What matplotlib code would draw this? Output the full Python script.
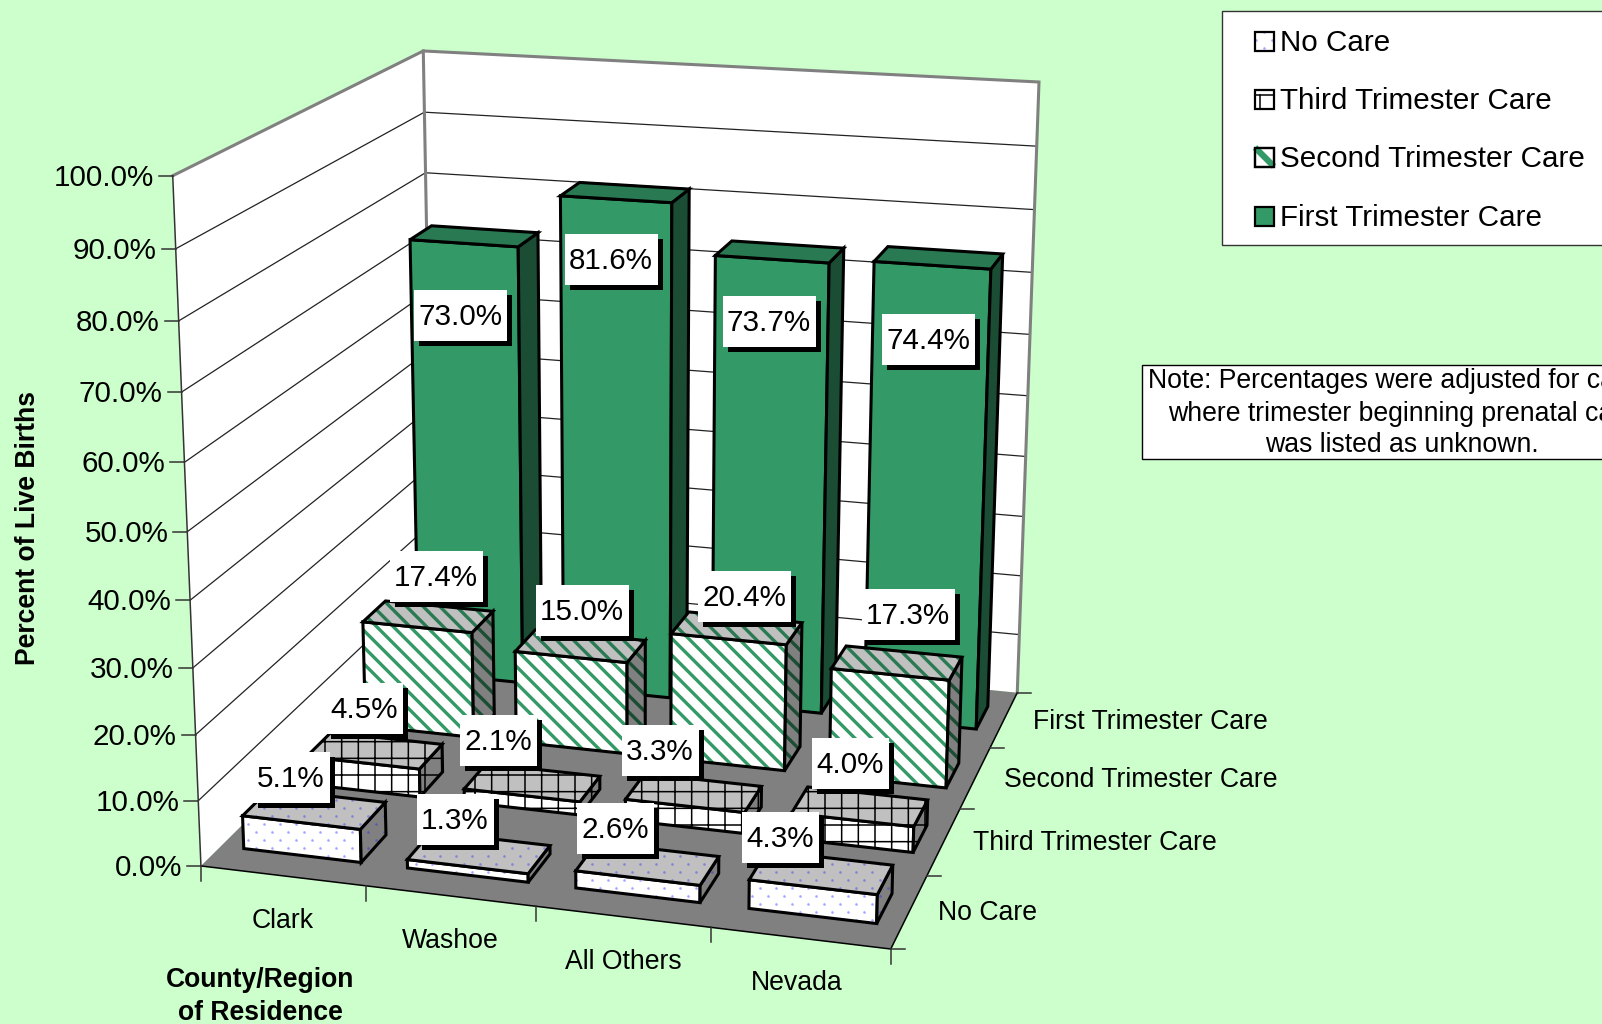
"""3-D style stacked-depth bar chart of prenatal care by county, drawn on a plain axes."""
import numpy as np
import matplotlib
matplotlib.use('Agg')
import matplotlib.pyplot as plt
from matplotlib.patches import Polygon, Rectangle

plt.rcParams['font.family'] = ['Liberation Sans', 'DejaVu Sans']

counties = ['Clark', 'Washoe', 'All Others', 'Nevada']
series = ['No Care', 'Third Trimester Care', 'Second Trimester Care', 'First Trimester Care']
no_care = [5.1, 1.3, 2.6, 4.3]
third = [4.5, 2.1, 3.3, 4.0]
second = [17.4, 15.0, 20.4, 17.3]
first = [73.0, 81.6, 73.7, 74.4]
values = [no_care, third, second, first]
z_ticks = [0, 10, 20, 30, 40, 50, 60, 70, 80, 90, 100]

# label box centres in pixels, one row per series
label_xy = [
    [(291, 777), (455, 819), (615, 828), (780, 837)],
    [(364, 708), (498, 740), (660, 750), (850, 763)],
    [(436, 576), (582, 610), (744, 596), (908, 614)],
    [(460, 315), (611, 259), (769, 321), (928, 339)],
]
county_dx = [0, 0, 0, -3]

BG = '#CCFFCC'
GREEN = '#339966'
TXT = 2  # Liberation sits a little high with va='center'
# front / top / side fill and hatch colour for each series
styles = [
    dict(hatch='dots', hlw=0, front=('white', '#A8A8FF'), top=('#C0C0C0', '#8585D6'), side=('#808080', '#5C5CAD')),
    dict(hatch='+', hlw=1.1, front=('white', 'black'), top=('#C0C0C0', 'black'), side=('#808080', 'black')),
    dict(hatch='\\\\', hlw=2.4, front=('white', GREEN), top=('#C0C0C0', '#297A52'), side=('#808080', '#1A4D33')),
    dict(hatch=None, hlw=0, front=(GREEN, GREEN), top=('#297A52', '#297A52'), side=('#1A4D33', '#1A4D33')),
]

# cube corners (x, y, z in 0-1) and where they sit in the picture
cube = [(0, 0, 0), (0, 0, 1), (0, 1, 1), (1, 1, 1), (1, 1, 0), (1, 0, 0), (0, 1, 0)]
screen = [(201, 866), (172.7, 175.7), (423.3, 51), (1039, 82), (1017.3, 692.7), (890.7, 949), (434, 635)]

A = []
for (a, b, c), (u, v) in zip(cube, screen):
    A.append([a, b, c, 1, 0, 0, 0, 0, -u * a, -u * b, -u * c, -u])
    A.append([0, 0, 0, 0, a, b, c, 1, -v * a, -v * b, -v * c, -v])
P = np.linalg.svd(np.array(A))[2][-1].reshape(3, 4)


def proj(x, y, z):
    """x in categories (0-4), y in rows (0-4), z in percent -> pixels."""
    h = P @ np.array([x / 4, y / 4, z / 100, 1.0])
    return h[0] / h[2], h[1] / h[2]


fig = plt.figure(figsize=(16.02, 10.24), dpi=100, facecolor=BG)
ax = fig.add_axes([0, 0, 1, 1])
ax.set_xlim(0, 1602)
ax.set_ylim(1024, 0)
ax.axis('off')

zo = 1


def dots(pts, color, clip):
    # staggered dot pattern, the '.' hatch has the wrong row spacing
    arr = np.array(pts)
    xs, ys = [], []
    rows = np.arange(np.floor(arr[:, 1].min() / 8), np.ceil(arr[:, 1].max() / 8) + 1)
    for k in rows:
        col = np.arange(arr[:, 0].min() - 16, arr[:, 0].max() + 16, 16)
        col = np.floor(col / 16) * 16 + (8 if int(k) % 2 else 0)
        xs.extend(col)
        ys.extend([k * 8] * len(col))
    ln, = ax.plot(xs, ys, ls='', marker='o', ms=1.9, mew=0, color=color, zorder=zo)
    ln.set_clip_path(clip)


def face(pts, fill, hatch=None, hcolor=None, hlw=1.0, edge='black', lw=2.2):
    global zo
    zo += 1
    if hatch == 'dots':
        p = ax.add_patch(Polygon(pts, closed=True, facecolor=fill, edgecolor='none', zorder=zo))
        dots(pts, hcolor, p)
        ax.add_patch(Polygon(pts, closed=True, fill=False, edgecolor=edge, lw=lw, zorder=zo, joinstyle='miter'))
    elif hatch:
        # hatch width comes from rcParams when the patch is made
        plt.rcParams['hatch.linewidth'] = hlw
        ax.add_patch(Polygon(pts, closed=True, facecolor=fill, edgecolor=hcolor, hatch=hatch, lw=0, zorder=zo))
        ax.add_patch(Polygon(pts, closed=True, fill=False, edgecolor=edge, lw=lw, zorder=zo, joinstyle='miter'))
    else:
        ax.add_patch(Polygon(pts, closed=True, facecolor=fill, edgecolor=edge, lw=lw, zorder=zo, joinstyle='miter'))


# walls and floor
face([proj(0, 0, 0), proj(0, 4, 0), proj(0, 4, 100), proj(0, 0, 100)], 'white', edge='none', lw=0)
face([proj(0, 4, 0), proj(4, 4, 0), proj(4, 4, 100), proj(0, 4, 100)], 'white', edge='none', lw=0)
face([proj(0, 0, 0), proj(4, 0, 0), proj(4, 4, 0), proj(0, 4, 0)], '#808080', edge='none', lw=0)
for z in z_ticks[1:-1]:
    pts = [proj(0, 0, z), proj(0, 4, z), proj(4, 4, z)]
    ax.plot(*zip(*pts), color='#222222', lw=0.9, zorder=zo)
top_edge = [proj(0, 0, 100), proj(0, 4, 100), proj(4, 4, 100), proj(4, 4, 0)]
ax.plot(*zip(*top_edge), color='#808080', lw=2.2, zorder=zo, solid_joinstyle='miter')
ax.plot(*zip(proj(0, 4, 0), proj(0, 4, 100)), color='#808080', lw=2.2, zorder=zo)

# axis lines, ticks and tick labels
ax.plot(*zip(proj(0, 0, 0), proj(0, 0, 100)), color='#333333', lw=1.1, zorder=zo)
ax.plot(*zip(proj(0, 0, 0), proj(4, 0, 0), proj(4, 4, 0)), color='black', lw=1.1, zorder=zo)
for z in z_ticks:
    x0, y0 = proj(0, 0, z)
    ax.plot([x0 - 14, x0], [y0, y0], color='#333333', lw=1.1, zorder=zo)
    ax.text(x0 - 19, y0 + TXT, f'{z:.1f}%', ha='right', va='center', fontsize=21.3, color='black')
for i in range(5):
    x0, y0 = proj(i, 0, 0)
    ax.plot([x0, x0], [y0, y0 + 15], color='#333333', lw=1.1, zorder=zo)
for i, name in enumerate(counties):
    x0, y0 = proj(i + 0.5, 0, 0)
    ax.text(x0 + county_dx[i], y0 + 43 + TXT, name, ha='center', va='center', fontsize=19.2, color='black')
for r in range(5):
    x0, y0 = proj(4, r, 0)
    ax.plot([x0, x0 + 14], [y0, y0], color='#333333', lw=1.1, zorder=zo)
for r, name in enumerate(series):
    x0, y0 = proj(4, r + 0.5, 0)
    ax.text(x0 + 29, y0 + TXT, name, ha='left', va='center', fontsize=19.2, color='black')

# bars, back row first
GAP_X = 0.14
GAP_Y = 0.295
for r in [3, 2, 1, 0]:
    st = styles[r]
    for i in range(4):
        v = values[r][i]
        x0, x1 = i + GAP_X, i + 1 - GAP_X
        y0, y1 = r + GAP_Y, r + 1 - GAP_Y
        face([proj(x0, y0, 0), proj(x1, y0, 0), proj(x1, y0, v), proj(x0, y0, v)],
             st['front'][0], st['hatch'], st['front'][1], st['hlw'])
        face([proj(x1, y0, 0), proj(x1, y1, 0), proj(x1, y1, v), proj(x1, y0, v)],
             st['side'][0], st['hatch'], st['side'][1], st['hlw'])
        face([proj(x0, y0, v), proj(x1, y0, v), proj(x1, y1, v), proj(x0, y1, v)],
             st['top'][0], st['hatch'], st['top'][1], st['hlw'])

# data labels with a hard black shadow
for r in range(4):
    for i in range(4):
        v = values[r][i]
        cx, cy = label_xy[r][i]
        w = 93 if v >= 10 else 77
        ax.add_patch(Rectangle((cx - w / 2 + 5, cy - 25.5 + 5), w, 51, fc='black', ec='none', zorder=100))
        ax.add_patch(Rectangle((cx - w / 2, cy - 25.5), w, 51, fc='white', ec='none', zorder=101))
        ax.text(cx, cy + TXT, f'{v:.1f}%', ha='center', va='center', fontsize=21.3, color='black', zorder=102)

# axis titles
ax.text(28.5, 528, 'Percent of Live Births', rotation=90, ha='center', va='center',
        fontsize=19.1, fontweight='bold')
ax.text(260, 978 + TXT, 'County/Region', ha='center', va='center', fontsize=19.1, fontweight='bold')
ax.text(260, 1011 + TXT, 'of Residence', ha='center', va='center', fontsize=19.1, fontweight='bold')

# legend box runs off the right edge
ax.add_patch(Rectangle((1221.5, 10.5), 420, 234.5, fc='white', ec='#333333', lw=1.0, zorder=110))
legend_y = [41, 99, 157, 216]
for r, yy in enumerate(legend_y):
    st = styles[r]
    zo = 111
    sx0, sx1, sy0, sy1 = 1255, 1274, yy - 9.5, yy + 9.5
    swatch = [(sx0, sy0), (sx1, sy0), (sx1, sy1), (sx0, sy1)]
    # hatches are too coarse for a swatch this small, draw its pattern by hand
    if st['hatch'] == '+':
        face(swatch, 'white', lw=1.6)
        ax.plot([sx0, sx1], [yy - 4, yy - 4], color='black', lw=1.1, zorder=zo)
        ax.plot([sx0 + 5, sx0 + 5], [yy - 4, sy1], color='black', lw=1.1, zorder=zo)
    elif st['hatch'] == '\\\\':
        face(swatch, 'white', lw=1.6)
        ax.plot([sx0, sx1], [sy0, sy1], color=GREEN, lw=4.5, zorder=zo, solid_capstyle='butt')
        ax.add_patch(Polygon(swatch, closed=True, fill=False, edgecolor='black', lw=1.6, zorder=zo))
    else:
        face(swatch, st['front'][0], st['hatch'], st['front'][1], st['hlw'], lw=1.6)
    ax.text(1280.5, yy + TXT, series[r], ha='left', va='center', fontsize=21.3, zorder=112)

# note box, also cut by the right edge
ax.add_patch(Rectangle((1141.5, 365), 500, 94, fc='white', ec='black', lw=1.0, zorder=110))
note = ['Note: Percentages were adjusted for cases', 'where trimester beginning prenatal care', 'was listed as unknown.']
for line, yy in zip(note, [379, 412, 443.5]):
    ax.text(1402, yy + TXT, line, ha='center', va='center', fontsize=19.2, zorder=112, clip_on=True)

fig.savefig('out.png', dpi=100, facecolor=BG)
